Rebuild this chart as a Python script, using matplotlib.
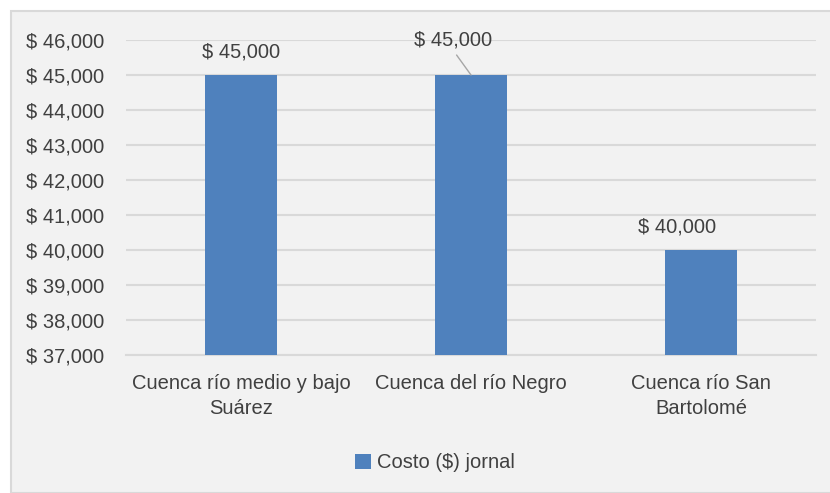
import matplotlib
matplotlib.use("Agg")
import matplotlib.pyplot as plt
from matplotlib.patches import Rectangle

categories = ["Cuenca río medio y bajo\nSuárez", "Cuenca del río Negro", "Cuenca río San\nBartolomé"]
values = [45000, 45000, 40000]
labels = ["$ 45,000", "$ 45,000", "$ 40,000"]
yticks = list(range(37000, 46001, 1000))
series_name = "Costo ($) jornal"

plt.rcParams['font.family'] = ['Liberation Sans', 'DejaVu Sans']

W, H = 830, 493
fig = plt.figure(figsize=(W/100, H/100), dpi=100)
fig.patch.set_facecolor('white')
# background panel
fig.patches.append(Rectangle((11/W, 0), 1 - 11/W + 0.01, 1 - 11/H, transform=fig.transFigure,
                             facecolor='#f2f2f2', edgecolor='#d9d9d9', linewidth=1.5, zorder=-10))

ax = fig.add_axes([126/W, 1 - 355/H, (816-126)/W, (355-40)/H])
ax.set_zorder(5)
ax.set_facecolor('none')
x = list(range(len(categories)))
bars = ax.bar(x, values, width=0.313, color='#4f81bd', label=series_name, zorder=3)
ax.set_xlim(-0.5, 2.5)
ax.set_ylim(37000, 46000)
ax.set_yticks(yticks)
ax.set_yticklabels([f"$ {v:,}" for v in yticks])
ax.set_xticks(x)
ax.set_xticklabels(categories, linespacing=1.35)
ax.grid(axis='y', color='#d9d9d9', linewidth=1.5, zorder=0)
for s in ['top', 'right', 'left']:
    ax.spines[s].set_visible(False)
ax.spines['bottom'].set_color('#d9d9d9')
ax.spines['bottom'].set_linewidth(1.5)
ax.tick_params(axis='both', length=0, labelsize=14.5, colors='#404040')
ax.tick_params(axis='y', pad=16)
ax.tick_params(axis='x', pad=14)

fs = 14.5
# data labels
ax.annotate(labels[0], (x[0], values[0]), xytext=(0, 10), textcoords='offset points',
            ha='center', va='bottom', fontsize=fs, color='#404040')
ax.annotate(labels[1], (x[1], values[1]), xytext=(-13, 18), textcoords='offset points',
            ha='center', va='bottom', fontsize=fs, color='#404040',
            arrowprops=dict(arrowstyle='-', color='#a6a6a6', lw=1, shrinkA=2, shrinkB=0,
                            relpos=(0.5, 0.0)))
ax.annotate(labels[2], (x[2], values[2]), xytext=(-17, 10), textcoords='offset points',
            ha='center', va='bottom', fontsize=fs, color='#404040')

leg = fig.legend(handles=[bars], labels=[series_name], loc='center', bbox_to_anchor=(435/W, 1 - 463/H),
                 frameon=False, fontsize=fs, handlelength=0.8, handleheight=0.8, handletextpad=0.3)
for t in leg.get_texts():
    t.set_color('#404040')

fig.savefig('out.png', dpi=100)
